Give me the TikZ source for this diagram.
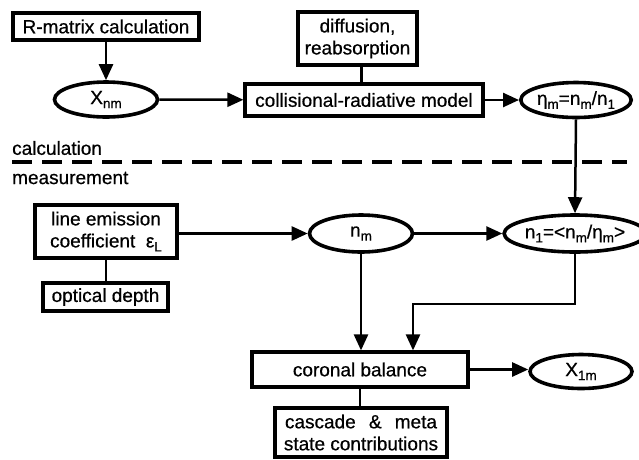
\documentclass[tikz,border=0pt]{standalone}
\usepackage{fontspec}
\setmainfont{Liberation Sans}[FakeBold=0.6]
\usetikzlibrary{shapes.geometric,arrows.meta}
% lowered, smaller index letters
\newcommand{\lo}[1]{\raisebox{-0.4ex}{\fontsize{13.5}{13.5}\selectfont #1}}
\begin{document}
\begin{tikzpicture}[x=1pt,y=-1pt,
  every node/.style={font=\fontsize{19}{22}\selectfont},
  box/.style={draw,line width=3.2pt,rectangle,inner sep=0pt,align=center},
  oval/.style={draw,line width=3.6pt,ellipse,inner sep=0pt},
  arr/.style={line width=2.5pt,-{Triangle[length=16pt,width=14pt]}},
  link/.style={line width=2.5pt},
  sep/.style={line width=4.5pt,dash pattern=on 20pt off 10pt}]
\useasboundingbox (0,0) rectangle (639,459);

% calculation part
\node[box,minimum width=186pt,minimum height=27pt] (rm) at (106,26.5) {R-matrix calculation};
\node[box,minimum width=119pt,minimum height=53pt] (diff) at (357.5,38.5) {diffusion,\\reabsorption};
\node[oval,minimum width=103pt,minimum height=35pt] (xnm) at (106,99.5) {X\lo{nm}};
\node[box,minimum width=238pt,minimum height=32pt] (crm) at (364,100) {collisional-radiative model};
\node[oval,minimum width=104pt,minimum height=35pt] (eta) at (576,100) {η\lo{m}=n\lo{m}/n\lo{1}};

% separator between the two parts
\node[anchor=west,inner sep=0pt] (calc) at (12,148) {calculation};
\node[anchor=west,inner sep=0pt] (meas) at (12,178) {measurement};
\coordinate (dl) at (12,162);
\coordinate (dr) at (627,162);
\draw[sep] (dl) -- (dr);

% measurement part
\node[box,minimum width=142pt,minimum height=53pt] (lec) at (106,231.5) {line emission\\coefficient\ \ ε\lo{L}};
\node[box,minimum width=125pt,minimum height=28pt] (od) at (105.5,297) {optical depth};
\node[oval,minimum width=103pt,minimum height=37pt] (nm) at (361,233.5) {n\lo{m}};
\node[oval,minimum width=124pt,minimum height=37pt] (n1) at (575,233.5) {n\lo{1}=<n\lo{m}/η\lo{m}>};
\node[box,minimum width=216pt,minimum height=35pt] (cb) at (360,369.5) {coronal balance};
\node[oval,minimum width=102pt,minimum height=34pt] (x1m) at (581,371.5) {X\lo{1m}};
\node[box,minimum width=172pt,minimum height=49pt] (cas) at (361,432.5) {\makebox[152pt][s]{cascade \& meta}\\state contributions};

% connectors
\draw[arr] (rm.south) -- (xnm.north);
\draw[arr] (xnm) -- (crm);
\draw[link] ([xshift=4pt]diff.south) -- ([xshift=4pt]diff.south |- crm.north);
\draw[arr] (crm) -- (eta);
\draw[arr] (eta.south) -- (n1.north);
\draw[link] (lec.south) -- (lec.south |- od.north);
\draw[arr] (lec.east |- nm.west) -- (nm.west);
\draw[arr] (nm) -- (n1);
\draw[arr] (nm.south) -- (nm.south |- cb.north);
\draw[arr] (n1.south) -- ++(0,50) -| ([xshift=53pt]cb.north);
\draw[arr] (cb.east) -- (cb.east -| x1m.west);
\draw[link] (cb.south) -- (cb.south |- cas.north);
\end{tikzpicture}
\end{document}
